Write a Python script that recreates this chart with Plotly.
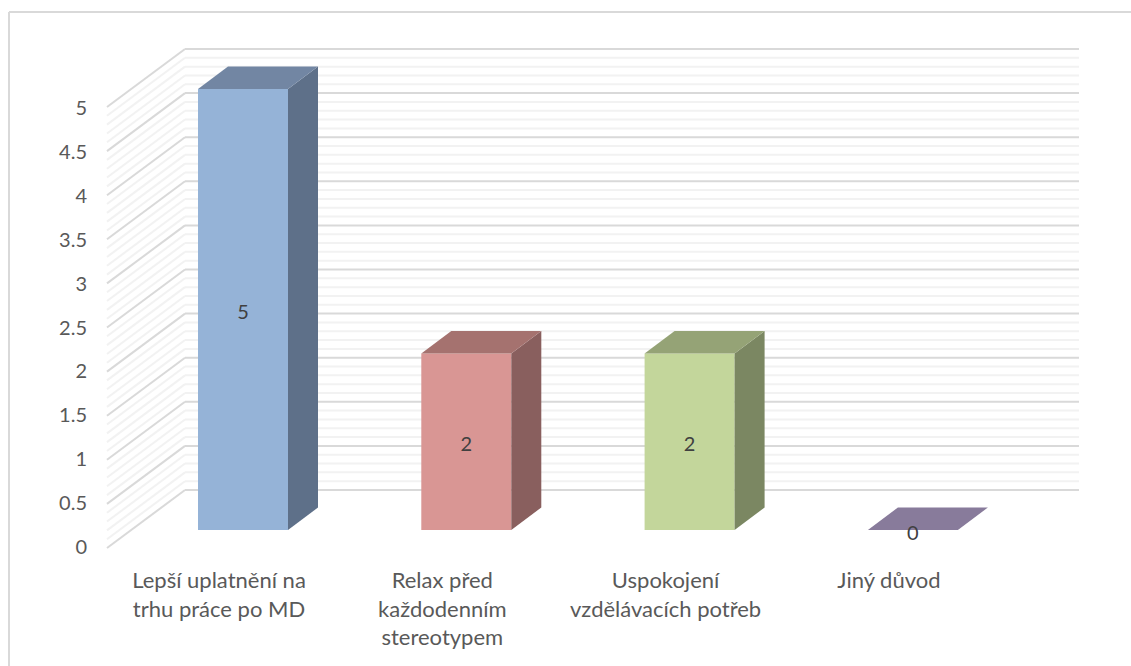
import plotly.graph_objects as go

categories = ["Lepší uplatnění na<br>trhu práce po MD", "Relax před<br>každodenním<br>stereotypem",
              "Uspokojení<br>vzdělávacích potřeb", "Jiný důvod"]
values = [5, 2, 2, 0]
front_colors = ["#95B3D7", "#D99694", "#C3D69B", "#B3A2C7"]
side_colors = ["#5E7089", "#895F5E", "#7B8762", "#716685"]
top_colors = ["#7286A3", "#A5726F", "#95A376", "#887B9B"]
axis_ticks = [0, 0.5, 1, 1.5, 2, 2.5, 3, 3.5, 4, 4.5, 5]
axis_labels = ["0", "0.5", "1", "1.5", "2", "2.5", "3", "3.5", "4", "4.5", "5"]
grid_steps = list(range(0, 51))  # tenths of a unit, every fifth one is a major line

# pixels per unit, the chart is a fake 3D so everything goes through these
PX_X = 223.3
PX_Y = 88.2
X0 = 243
Y0 = 530
WIDTH = 1131
HEIGHT = 666
LEFT = 88
BOTTOM = 565


def px_x(p):
    return (p - X0) / PX_X


def px_dx(p):
    return p / PX_X


def px_dy(p):
    return p / PX_Y


bar_w = 90 / PX_X
dx = px_dx(30)
dy = px_dy(22.5)
xs = list(range(len(values)))

fig = go.Figure()
fig.add_trace(go.Bar(x=xs, y=values, width=bar_w, marker=dict(color=front_colors, line=dict(width=0)), hoverinfo="skip"))

# side and top faces of each bar
for c, v, side, top in zip(xs, values, side_colors, top_colors):
    r = c + bar_w / 2
    l = c - bar_w / 2
    if v > 0:
        fig.add_trace(go.Scatter(x=[r, r + dx, r + dx, r, r], y=[v, v + dy, dy, 0, v], fill="toself",
                                 fillcolor=side, mode="none", hoverinfo="skip"))
    fig.add_trace(go.Scatter(x=[l, r, r + dx, l + dx, l], y=[v, v, v + dy, v + dy, v], fill="toself",
                             fillcolor=top, mode="none", hoverinfo="skip"))

fig.add_trace(go.Scatter(x=xs, y=[v / 2 - px_dy(4.5) for v in values], text=[str(v) for v in values],
                         mode="text", textfont=dict(family="Lato", size=20, color="#404040"), hoverinfo="skip"))

# walls: left wall from the front corner to the back corner, then the back wall
wall_x = [px_x(107), px_x(185), px_x(1079)]
front_shift = px_dy(-18)
back_shift = px_dy(40)
for step in grid_steps:
    v = step / 10
    color = "#D9D9D9" if step % 5 == 0 else "#F2F2F2"
    for i, (a, b) in enumerate([(front_shift, back_shift), (back_shift, back_shift)]):
        fig.add_shape(type="line", layer="below", x0=wall_x[i], x1=wall_x[i + 1], y0=v + a, y1=v + b,
                      line=dict(color=color, width=2))

# chart frame, only left and top edges are in the picture
frame_x = (9 - LEFT) / (WIDTH - LEFT)
frame_y = (BOTTOM - 12) / BOTTOM
fig.add_shape(type="line", xref="paper", yref="paper", x0=frame_x, x1=1, y0=frame_y, y1=frame_y,
              line=dict(color="#D9D9D9", width=2))
fig.add_shape(type="line", xref="paper", yref="paper", x0=frame_x, x1=frame_x, y0=(BOTTOM - HEIGHT) / BOTTOM, y1=frame_y,
              line=dict(color="#D9D9D9", width=2))

fig.update_layout(
    width=WIDTH,
    height=HEIGHT,
    margin=dict(l=LEFT, r=0, t=0, b=HEIGHT - BOTTOM),
    paper_bgcolor="white",
    plot_bgcolor="rgba(0,0,0,0)",
    showlegend=False,
    xaxis=dict(range=[px_x(LEFT), px_x(WIDTH)], tickvals=[c + px_dx(-24) for c in xs],
               ticktext=categories, tickangle=0, showgrid=False, zeroline=False,
               showline=False, ticks="", tickfont=dict(family="Lato", size=22, color="#595959")),
    yaxis=dict(range=[px_dy(Y0 - BOTTOM), px_dy(Y0)], tickvals=[t * 87.8 / PX_Y + px_dy(-17) for t in axis_ticks],
               ticktext=axis_labels, showgrid=False, zeroline=False, showline=False, ticks="",
               tickfont=dict(family="Lato", size=20, color="#595959")),
)

# the browser's default body margin would push the whole chart 8px off
fig.write_html("out.html", config=dict(displayModeBar=False), post_script="document.body.style.margin = '0';")
